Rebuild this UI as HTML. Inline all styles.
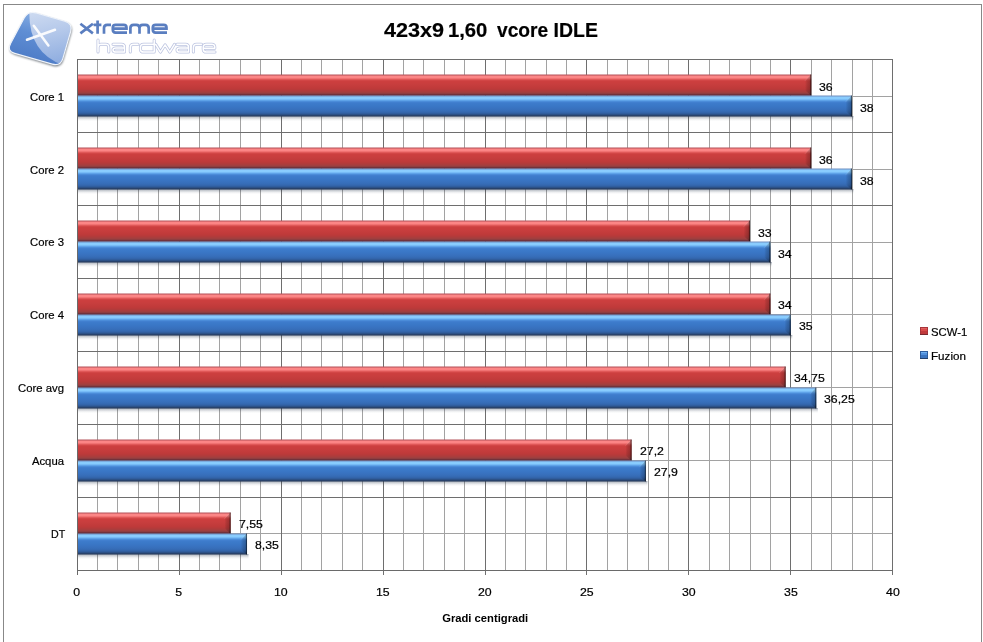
<!DOCTYPE html>
<html><head><meta charset="utf-8"><style>
html,body{margin:0;padding:0;background:#fff;width:983px;height:642px;overflow:hidden}
svg{display:block;position:absolute;left:0;top:0}
text{font-family:"Liberation Sans", sans-serif}
.t{will-change:transform}
</style></head><body>
<svg width="983" height="642" viewBox="0 0 983 642" shape-rendering="crispEdges">
<defs><linearGradient id="bev" x1="0" y1="0" x2="1" y2="0"><stop offset="0" stop-color="#000" stop-opacity="0.02"/><stop offset="0.35" stop-color="#000" stop-opacity="0.13"/><stop offset="1" stop-color="#000" stop-opacity="0.26"/></linearGradient></defs>
<rect x="3" y="4" width="978" height="700" fill="none" stroke="#888" stroke-width="1" transform="translate(0.5 0.5)"/>
<path d="M97.5 59V570M117.5 59V570M138.5 59V570M158.5 59V570M199.5 59V570M219.5 59V570M240.5 59V570M260.5 59V570M301.5 59V570M321.5 59V570M342.5 59V570M362.5 59V570M403.5 59V570M423.5 59V570M444.5 59V570M464.5 59V570M505.5 59V570M525.5 59V570M546.5 59V570M566.5 59V570M607.5 59V570M627.5 59V570M648.5 59V570M668.5 59V570M709.5 59V570M729.5 59V570M750.5 59V570M770.5 59V570M811.5 59V570M831.5 59V570M852.5 59V570M872.5 59V570" stroke="#a2a2a2" stroke-width="1" fill="none"/>
<path d="M77 96.5H893M77 169.5H893M77 242.5H893M77 314.5H893M77 387.5H893M77 460.5H893M77 533.5H893" stroke="#a2a2a2" stroke-width="1" fill="none"/>
<path d="M77.5 59V570M179.5 59V570M281.5 59V570M383.5 59V570M485.5 59V570M586.5 59V570M688.5 59V570M790.5 59V570M892.5 59V570M77 59.5H893M77 132.5H893M77 205.5H893M77 278.5H893M77 351.5H893M77 424.5H893M77 497.5H893M77 570.5H893" stroke="#6e6e6e" stroke-width="1" fill="none"/>
<path d="M77.5 570V575M179.5 570V575M281.5 570V575M383.5 570V575M485.5 570V575M586.5 570V575M688.5 570V575M790.5 570V575M892.5 570V575" stroke="#707070" stroke-width="1" fill="none"/>
<path d="M77.5 59V575M77 570.5H893" stroke="#6a6a6a" stroke-width="1" fill="none"/>
<defs><linearGradient id="gR" x1="0" y1="0" x2="0" y2="1"><stop offset="0.0238" stop-color="#b4525a"/><stop offset="0.0714" stop-color="#f88282"/><stop offset="0.1190" stop-color="#ff8a8a"/><stop offset="0.1667" stop-color="#f88080"/><stop offset="0.2143" stop-color="#e86464"/><stop offset="0.2619" stop-color="#d84c4c"/><stop offset="0.3095" stop-color="#cc4040"/><stop offset="0.3571" stop-color="#cc3e3e"/><stop offset="0.4048" stop-color="#ca3e3e"/><stop offset="0.4524" stop-color="#c83e3e"/><stop offset="0.5000" stop-color="#c63d3d"/><stop offset="0.5476" stop-color="#c43c3c"/><stop offset="0.5952" stop-color="#c23b3b"/><stop offset="0.6429" stop-color="#c03a3a"/><stop offset="0.6905" stop-color="#bc3a3a"/><stop offset="0.7381" stop-color="#b63a3a"/><stop offset="0.7857" stop-color="#ae3c3c"/><stop offset="0.8333" stop-color="#a63e3e"/><stop offset="0.8810" stop-color="#9a4040"/><stop offset="0.9286" stop-color="#843a40"/><stop offset="0.9762" stop-color="#5e2a38"/></linearGradient><linearGradient id="gB" x1="0" y1="0" x2="0" y2="1"><stop offset="0.0238" stop-color="#7090c0"/><stop offset="0.0714" stop-color="#88c8fc"/><stop offset="0.1190" stop-color="#8cd0ff"/><stop offset="0.1667" stop-color="#84c8fc"/><stop offset="0.2143" stop-color="#6aaef0"/><stop offset="0.2619" stop-color="#5296e0"/><stop offset="0.3095" stop-color="#4482d2"/><stop offset="0.3571" stop-color="#3e7ccc"/><stop offset="0.4048" stop-color="#3c7aca"/><stop offset="0.4524" stop-color="#3b79c8"/><stop offset="0.5000" stop-color="#3a77c6"/><stop offset="0.5476" stop-color="#3975c4"/><stop offset="0.5952" stop-color="#3973c1"/><stop offset="0.6429" stop-color="#3871be"/><stop offset="0.6905" stop-color="#376fbb"/><stop offset="0.7381" stop-color="#366cb6"/><stop offset="0.7857" stop-color="#3468b0"/><stop offset="0.8333" stop-color="#3262a6"/><stop offset="0.8810" stop-color="#2e5894"/><stop offset="0.9286" stop-color="#2a4a7a"/><stop offset="0.9762" stop-color="#263a5c"/></linearGradient><linearGradient id="gS" x1="0" y1="0" x2="0" y2="1"><stop offset="0" stop-color="#203048" stop-opacity="0.45"/><stop offset="0.35" stop-color="#203048" stop-opacity="0.22"/><stop offset="0.7" stop-color="#203048" stop-opacity="0.07"/><stop offset="1" stop-color="#203048" stop-opacity="0"/></linearGradient></defs>
<g shape-rendering="auto">
<rect x="78" y="95.300" width="733.194" height="1.2" fill="#5e2a38"/><rect x="78" y="74.500" width="733.194" height="21.000" fill="url(#gR)"/><path d="M805.194 80.500L811.194 74.500V95.500L805.194 90.500Z" fill="url(#bev)"/><path d="M804.694 81.000L810.694 75.000" stroke="#fff" stroke-opacity="0.1" stroke-width="1"/><rect x="810.094" y="74.500" width="1.1" height="21.000" fill="#000" fill-opacity="0.45"/>
<rect x="78" y="116.000" width="775.502" height="5" fill="url(#gS)"/><rect x="78" y="95.500" width="774.002" height="21.000" fill="url(#gB)" /><path d="M846.002 101.500L852.002 95.500V116.500L846.002 111.500Z" fill="url(#bev)"/><path d="M845.502 102.000L851.502 96.000" stroke="#fff" stroke-opacity="0.1" stroke-width="1"/><rect x="850.902" y="95.500" width="1.1" height="21.000" fill="#000" fill-opacity="0.45"/>
<rect x="78" y="168.300" width="733.194" height="1.2" fill="#5e2a38"/><rect x="78" y="147.500" width="733.194" height="21.000" fill="url(#gR)"/><path d="M805.194 153.500L811.194 147.500V168.500L805.194 163.500Z" fill="url(#bev)"/><path d="M804.694 154.000L810.694 148.000" stroke="#fff" stroke-opacity="0.1" stroke-width="1"/><rect x="810.094" y="147.500" width="1.1" height="21.000" fill="#000" fill-opacity="0.45"/>
<rect x="78" y="189.000" width="775.502" height="5" fill="url(#gS)"/><rect x="78" y="168.500" width="774.002" height="21.000" fill="url(#gB)" /><path d="M846.002 174.500L852.002 168.500V189.500L846.002 184.500Z" fill="url(#bev)"/><path d="M845.502 175.000L851.502 169.000" stroke="#fff" stroke-opacity="0.1" stroke-width="1"/><rect x="850.902" y="168.500" width="1.1" height="21.000" fill="#000" fill-opacity="0.45"/>
<rect x="78" y="241.300" width="671.982" height="1.2" fill="#5e2a38"/><rect x="78" y="220.500" width="671.982" height="21.000" fill="url(#gR)"/><path d="M743.982 226.500L749.982 220.500V241.500L743.982 236.500Z" fill="url(#bev)"/><path d="M743.482 227.000L749.482 221.000" stroke="#fff" stroke-opacity="0.1" stroke-width="1"/><rect x="748.882" y="220.500" width="1.1" height="21.000" fill="#000" fill-opacity="0.45"/>
<rect x="78" y="262.000" width="693.886" height="5" fill="url(#gS)"/><rect x="78" y="241.500" width="692.386" height="21.000" fill="url(#gB)" /><path d="M764.386 247.500L770.386 241.500V262.500L764.386 257.500Z" fill="url(#bev)"/><path d="M763.886 248.000L769.886 242.000" stroke="#fff" stroke-opacity="0.1" stroke-width="1"/><rect x="769.286" y="241.500" width="1.1" height="21.000" fill="#000" fill-opacity="0.45"/>
<rect x="78" y="314.300" width="692.386" height="1.2" fill="#5e2a38"/><rect x="78" y="293.500" width="692.386" height="21.000" fill="url(#gR)"/><path d="M764.386 299.500L770.386 293.500V314.500L764.386 309.500Z" fill="url(#bev)"/><path d="M763.886 300.000L769.886 294.000" stroke="#fff" stroke-opacity="0.1" stroke-width="1"/><rect x="769.286" y="293.500" width="1.1" height="21.000" fill="#000" fill-opacity="0.45"/>
<rect x="78" y="335.000" width="714.290" height="5" fill="url(#gS)"/><rect x="78" y="314.500" width="712.790" height="21.000" fill="url(#gB)" /><path d="M784.790 320.500L790.790 314.500V335.500L784.790 330.500Z" fill="url(#bev)"/><path d="M784.290 321.000L790.290 315.000" stroke="#fff" stroke-opacity="0.1" stroke-width="1"/><rect x="789.690" y="314.500" width="1.1" height="21.000" fill="#000" fill-opacity="0.45"/>
<rect x="78" y="387.300" width="707.689" height="1.2" fill="#5e2a38"/><rect x="78" y="366.500" width="707.689" height="21.000" fill="url(#gR)"/><path d="M779.689 372.500L785.689 366.500V387.500L779.689 382.500Z" fill="url(#bev)"/><path d="M779.189 373.000L785.189 367.000" stroke="#fff" stroke-opacity="0.1" stroke-width="1"/><rect x="784.589" y="366.500" width="1.1" height="21.000" fill="#000" fill-opacity="0.45"/>
<rect x="78" y="408.000" width="739.795" height="5" fill="url(#gS)"/><rect x="78" y="387.500" width="738.295" height="21.000" fill="url(#gB)" /><path d="M810.295 393.500L816.295 387.500V408.500L810.295 403.500Z" fill="url(#bev)"/><path d="M809.795 394.000L815.795 388.000" stroke="#fff" stroke-opacity="0.1" stroke-width="1"/><rect x="815.195" y="387.500" width="1.1" height="21.000" fill="#000" fill-opacity="0.45"/>
<rect x="78" y="460.300" width="553.639" height="1.2" fill="#5e2a38"/><rect x="78" y="439.500" width="553.639" height="21.000" fill="url(#gR)"/><path d="M625.639 445.500L631.639 439.500V460.500L625.639 455.500Z" fill="url(#bev)"/><path d="M625.139 446.000L631.139 440.000" stroke="#fff" stroke-opacity="0.1" stroke-width="1"/><rect x="630.539" y="439.500" width="1.1" height="21.000" fill="#000" fill-opacity="0.45"/>
<rect x="78" y="481.000" width="569.422" height="5" fill="url(#gS)"/><rect x="78" y="460.500" width="567.922" height="21.000" fill="url(#gB)" /><path d="M639.922 466.500L645.922 460.500V481.500L639.922 476.500Z" fill="url(#bev)"/><path d="M639.422 467.000L645.422 461.000" stroke="#fff" stroke-opacity="0.1" stroke-width="1"/><rect x="644.822" y="460.500" width="1.1" height="21.000" fill="#000" fill-opacity="0.45"/>
<rect x="78" y="533.300" width="152.700" height="1.2" fill="#5e2a38"/><rect x="78" y="512.500" width="152.700" height="21.000" fill="url(#gR)"/><path d="M224.700 518.500L230.700 512.500V533.500L224.700 528.500Z" fill="url(#bev)"/><path d="M224.200 519.000L230.200 513.000" stroke="#fff" stroke-opacity="0.1" stroke-width="1"/><rect x="229.600" y="512.500" width="1.1" height="21.000" fill="#000" fill-opacity="0.45"/>
<rect x="78" y="554.000" width="170.523" height="5" fill="url(#gS)"/><rect x="78" y="533.500" width="169.023" height="21.000" fill="url(#gB)" /><path d="M241.023 539.500L247.023 533.500V554.500L241.023 549.500Z" fill="url(#bev)"/><path d="M240.523 540.000L246.523 534.000" stroke="#fff" stroke-opacity="0.1" stroke-width="1"/><rect x="245.923" y="533.500" width="1.1" height="21.000" fill="#000" fill-opacity="0.45"/>
</g>
<g class="t" fill="#000" stroke="#000" stroke-width="0.2">
<text transform="translate(819 91.1) scale(1.12 1)" font-size="11">36</text>
<text transform="translate(860 112.1) scale(1.12 1)" font-size="11">38</text>
<text transform="translate(64 100.8) scale(1.03 1)" font-size="11" text-anchor="end">Core 1</text>
<text transform="translate(819 164.1) scale(1.12 1)" font-size="11">36</text>
<text transform="translate(860 185.1) scale(1.12 1)" font-size="11">38</text>
<text transform="translate(64 173.7) scale(1.03 1)" font-size="11" text-anchor="end">Core 2</text>
<text transform="translate(758 237.1) scale(1.12 1)" font-size="11">33</text>
<text transform="translate(778 258.1) scale(1.12 1)" font-size="11">34</text>
<text transform="translate(64 245.7) scale(1.03 1)" font-size="11" text-anchor="end">Core 3</text>
<text transform="translate(778 309.1) scale(1.12 1)" font-size="11">34</text>
<text transform="translate(799 330.1) scale(1.12 1)" font-size="11">35</text>
<text transform="translate(64 318.7) scale(1.03 1)" font-size="11" text-anchor="end">Core 4</text>
<text transform="translate(794 382.1) scale(1.12 1)" font-size="11">34,75</text>
<text transform="translate(824 403.1) scale(1.12 1)" font-size="11">36,25</text>
<text transform="translate(64 391.7) scale(1.03 1)" font-size="11" text-anchor="end">Core avg</text>
<text transform="translate(640 455.1) scale(1.12 1)" font-size="11">27,2</text>
<text transform="translate(654 476.1) scale(1.12 1)" font-size="11">27,9</text>
<text transform="translate(64 464.75) scale(1.03 1)" font-size="11" text-anchor="end">Acqua</text>
<text transform="translate(239 528.1) scale(1.12 1)" font-size="11">7,55</text>
<text transform="translate(255 549.1) scale(1.12 1)" font-size="11">8,35</text>
<text transform="translate(65.2 537.7) scale(0.97 1)" font-size="11" text-anchor="end">DT</text>
<text transform="translate(76.7 595.5) scale(1.12 1)" font-size="11" text-anchor="middle">0</text>
<text transform="translate(178.73 595.5) scale(1.12 1)" font-size="11" text-anchor="middle">5</text>
<text transform="translate(280.75 595.5) scale(1.12 1)" font-size="11" text-anchor="middle">10</text>
<text transform="translate(382.78 595.5) scale(1.12 1)" font-size="11" text-anchor="middle">15</text>
<text transform="translate(484.8 595.5) scale(1.12 1)" font-size="11" text-anchor="middle">20</text>
<text transform="translate(586.83 595.5) scale(1.12 1)" font-size="11" text-anchor="middle">25</text>
<text transform="translate(688.85 595.5) scale(1.12 1)" font-size="11" text-anchor="middle">30</text>
<text transform="translate(790.88 595.5) scale(1.12 1)" font-size="11" text-anchor="middle">35</text>
<text transform="translate(892.9 595.5) scale(1.12 1)" font-size="11" text-anchor="middle">40</text>
<text transform="translate(485.2 621.5) scale(1.02 1)" font-size="11" text-anchor="middle" font-weight="bold" stroke-width="0">Gradi centigradi</text>
<text transform="translate(384.0 36.7) scale(1.055 1)" font-size="20.5" font-weight="bold">423x9</text>
<text transform="translate(447.9 36.7) scale(0.99 1)" font-size="20.5" font-weight="bold">1,60</text>
<text transform="translate(497.0 36.7) scale(0.936 1)" font-size="20.5" font-weight="bold">vcore</text>
<text transform="translate(553.6 36.7) scale(0.95 1)" font-size="20.5" font-weight="bold">IDLE</text>
<text transform="translate(931 335.8) scale(1.03 1)" font-size="11">SCW-1</text>
<text transform="translate(931 359.6) scale(1.06 1)" font-size="11">Fuzion</text>
</g>
<rect x="920" y="327" width="8" height="8" fill="#a8343a"/><rect x="921" y="328" width="6" height="1" fill="#e06060"/><rect x="921" y="329" width="6" height="2" fill="#d84a4a"/><rect x="921" y="331" width="6" height="3" fill="#c03a3c"/><rect x="920" y="334" width="8" height="1" fill="#78282e"/><rect x="920" y="351" width="8" height="8" fill="#2e5c9c"/><rect x="921" y="352" width="6" height="1" fill="#70b0f0"/><rect x="921" y="353" width="6" height="2" fill="#5090dc"/><rect x="921" y="355" width="6" height="3" fill="#3a74c0"/><rect x="920" y="358" width="8" height="1" fill="#24406a"/><g shape-rendering="auto">
<defs>
<clipPath id="lc"><path d="M24.19 18.10Q28.2 10.6 36.36 12.97L64.84 21.23Q73 23.6 70.62 31.76L62.88 58.34Q60.5 66.5 52.33 64.15L14.77 53.35Q6.6 51 10.61 43.50Z"/></clipPath>
<linearGradient id="ld" x1="0.2" y1="1" x2="0.5" y2="0"><stop offset="0" stop-color="#4a78c4"/><stop offset="0.6" stop-color="#5f8ed4"/><stop offset="1" stop-color="#8ab0e4"/></linearGradient>
<linearGradient id="ll" x1="0" y1="0" x2="0.2" y2="1"><stop offset="0" stop-color="#d2def2"/><stop offset="0.5" stop-color="#b4c8ea"/><stop offset="1" stop-color="#90aee0"/></linearGradient>
<filter id="lb" x="-20%" y="-20%" width="140%" height="140%"><feGaussianBlur stdDeviation="1"/></filter>
</defs>
<path d="M24.19 18.10Q28.2 10.6 36.36 12.97L64.84 21.23Q73 23.6 70.62 31.76L62.88 58.34Q60.5 66.5 52.33 64.15L14.77 53.35Q6.6 51 10.61 43.50Z" transform="translate(0.5 1.5)" fill="#606870" filter="url(#lb)" opacity="0.95"/>
<path d="M24.19 18.10Q28.2 10.6 36.36 12.97L64.84 21.23Q73 23.6 70.62 31.76L62.88 58.34Q60.5 66.5 52.33 64.15L14.77 53.35Q6.6 51 10.61 43.50Z" fill="url(#ld)"/>
<path d="M29.5 8 Q27 54 66 66 L80 66 L80 8 Z" fill="url(#ll)" clip-path="url(#lc)"/>
<path d="M24.19 18.10Q28.2 10.6 36.36 12.97L64.84 21.23Q73 23.6 70.62 31.76L62.88 58.34Q60.5 66.5 52.33 64.15L14.77 53.35Q6.6 51 10.61 43.50Z" fill="none" stroke="#f0f4fa" stroke-width="1.1"/>
<path d="M27 39.8 L55 29.8 M33.8 25.8 L48.4 45.4" stroke="#fff" stroke-width="2.5" stroke-linecap="round" opacity="0.92"/>
<path d="M80.4 23.8L92.9 33.4M92.9 23.8L80.4 33.4M97.6 20.6V33.8M93.6 24.8H101.4M104 33.8V28Q104 24.8 107.2 24.8H111M127 32.6H115.6Q112.8 32.6 112.8 29.8V27.6Q112.8 24.8 115.6 24.8H123.7Q126.5 24.8 126.5 27.6V28.7H112.8M130.4 33.8V28Q130.4 24.8 133.6 24.8H136.3Q139.5 24.8 139.5 28V33.8M139.5 28Q139.5 24.8 142.7 24.8H145.5Q148.7 24.8 148.7 28V33.8M167 32.6H155.6Q152.8 32.6 152.8 29.8V27.6Q152.8 24.8 155.6 24.8H163.7Q166.5 24.8 166.5 27.6V28.7H152.8" fill="none" stroke="#5a7ec0" stroke-width="2.7"/>
<g fill="none">
<path id="hw" d="M98 40V52.1M98 47.5Q98 44.3 101.2 44.3H105.6Q108.8 44.3 108.8 47.5V52.1M113 44.3H121.5Q124.5 44.3 124.5 47.3V52.1H116Q113 52.1 113 50V50Q113 48 116 48H124.5M130.3 52.1V47.5Q130.3 44.3 133.5 44.3H138M154.2 40V52.1H143.6Q140.4 52.1 140.4 48.9V47.5Q140.4 44.3 143.6 44.3H154.2M155.7 44.3L160.4 52.1L165.1 44.8L169.8 52.1L174.5 44.3M177 44.3H185.5Q188.5 44.3 188.5 47.3V52.1H180Q177 52.1 177 50V50Q177 48 180 48H188.5M193.4 52.1V47.5Q193.4 44.3 196.6 44.3H201.5M215 52.1H206.4Q203.2 52.1 203.2 48.9V47.5Q203.2 44.3 206.4 44.3H211.8Q214.8 44.3 214.8 47.3V48.2H203.2" stroke="#bcc4e0" stroke-width="3" stroke-linecap="round" stroke-linejoin="round"/>
<path d="M98 40V52.1M98 47.5Q98 44.3 101.2 44.3H105.6Q108.8 44.3 108.8 47.5V52.1M113 44.3H121.5Q124.5 44.3 124.5 47.3V52.1H116Q113 52.1 113 50V50Q113 48 116 48H124.5M130.3 52.1V47.5Q130.3 44.3 133.5 44.3H138M154.2 40V52.1H143.6Q140.4 52.1 140.4 48.9V47.5Q140.4 44.3 143.6 44.3H154.2M155.7 44.3L160.4 52.1L165.1 44.8L169.8 52.1L174.5 44.3M177 44.3H185.5Q188.5 44.3 188.5 47.3V52.1H180Q177 52.1 177 50V50Q177 48 180 48H188.5M193.4 52.1V47.5Q193.4 44.3 196.6 44.3H201.5M215 52.1H206.4Q203.2 52.1 203.2 48.9V47.5Q203.2 44.3 206.4 44.3H211.8Q214.8 44.3 214.8 47.3V48.2H203.2" stroke="#ffffff" stroke-width="1.5" stroke-linecap="round" stroke-linejoin="round"/>
</g>
</g>
</svg></body></html>
